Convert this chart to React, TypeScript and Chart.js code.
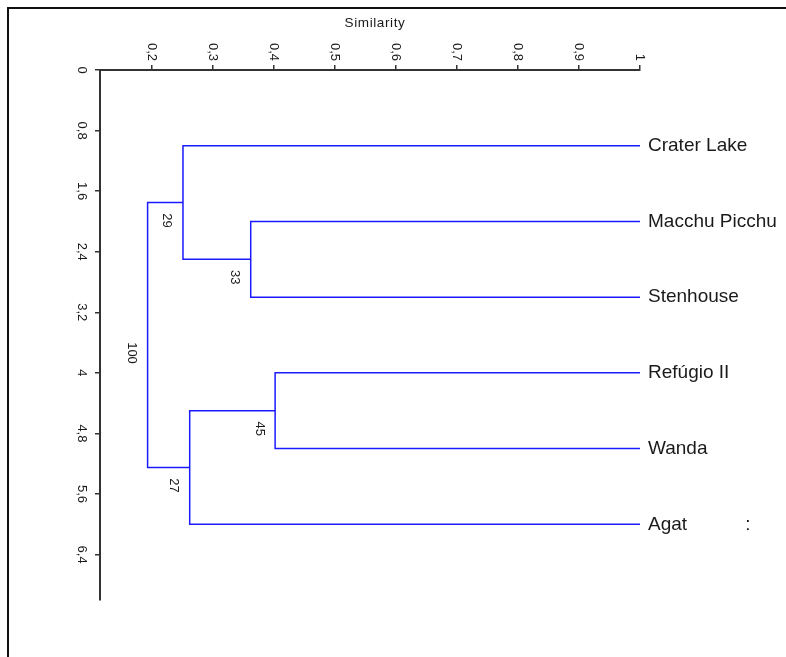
import React, { useEffect, useRef } from "react";
import { Chart, registerables } from "chart.js";

Chart.register(...registerables);

// ---- data ----
const xTickValues = [0.2, 0.3, 0.4, 0.5, 0.6, 0.7, 0.8, 0.9, 1];
const xTickLabels = ["0,2", "0,3", "0,4", "0,5", "0,6", "0,7", "0,8", "0,9", "1"];
const yTickValues = [0, 0.8, 1.6, 2.4, 3.2, 4, 4.8, 5.6, 6.4];
const yTickLabels = ["0", "0,8", "1,6", "2,4", "3,2", "4", "4,8", "5,6", "6,4"];
const axisTitle = "Similarity";

const leafNames = ["Crater Lake", "Macchu Picchu", "Stenhouse", "Refúgio II", "Wanda", "Agat           :"];
const leafPositions = [1, 2, 3, 4, 5, 6];
const leafSimilarity = 1;

// merges (node index: leaves 0..5, merges 6..10)
const mergeLeft = [1, 3, 0, 7, 8];
const mergeRight = [2, 4, 6, 5, 9];
const mergeSimilarity = [0.362, 0.402, 0.251, 0.262, 0.193];
const mergeSupport = [33, 45, 29, 27, 100];

const FONT = "'Liberation Sans', Arial, sans-serif";
const LINE_BLUE = "#1a1aff";
const W = 786;
const H = 657;

function buildNodes() {
  const nx: number[] = leafPositions.map(() => leafSimilarity);
  const ny: number[] = leafPositions.slice();
  mergeLeft.forEach((l, k) => {
    const r = mergeRight[k];
    nx.push(mergeSimilarity[k]);
    ny.push((ny[l] + ny[r]) / 2);
  });
  return { nx, ny };
}

export default function App() {
  const ref = useRef<HTMLCanvasElement | null>(null);

  useEffect(() => {
    const canvas = ref.current;
    if (!canvas) return;
    const { nx, ny } = buildNodes();

    const datasets = mergeLeft.map((l, k) => {
      const r = mergeRight[k];
      const s = mergeSimilarity[k];
      return {
        data: [
          { x: nx[l], y: ny[l] },
          { x: s, y: ny[l] },
          { x: s, y: ny[r] },
          { x: nx[r], y: ny[r] },
        ],
        showLine: true,
        borderColor: LINE_BLUE,
        backgroundColor: LINE_BLUE,
        borderWidth: 1.5,
        pointRadius: 0,
        tension: 0,
        fill: false,
      };
    });

    const overlay = {
      id: "overlay",
      afterDraw(chart: any) {
        const ctx = chart.ctx as CanvasRenderingContext2D;
        const xs = chart.scales.x;
        const ys = chart.scales.y;
        const area = chart.chartArea;
        ctx.save();

        // frame (top and left)
        ctx.fillStyle = "#111";
        ctx.fillRect(7, 7, chart.width - 7, 2);
        ctx.fillRect(7, 7, 2, chart.height - 7);

        // title
        ctx.fillStyle = "#1a1a1a";
        ctx.font = `13.5px ${FONT}`;
        (ctx as any).letterSpacing = "0.6px";
        ctx.textAlign = "center";
        ctx.textBaseline = "alphabetic";
        ctx.fillText(axisTitle, (area.left + area.right) / 2 + 5, 27);
        (ctx as any).letterSpacing = "0px";

        // top tick labels (rotated clockwise)
        ctx.font = `13px ${FONT}`;
        xTickValues.forEach((v, i) => {
          const px = xs.getPixelForValue(v);
          ctx.save();
          ctx.translate(px, area.top - 9);
          ctx.rotate(Math.PI / 2);
          ctx.textAlign = "right";
          ctx.textBaseline = "middle";
          ctx.fillText(xTickLabels[i], 0, 0);
          ctx.restore();
        });

        // left tick labels (rotated clockwise)
        yTickValues.forEach((v, i) => {
          const py = ys.getPixelForValue(v);
          ctx.save();
          ctx.translate(area.left - 18, py);
          ctx.rotate(Math.PI / 2);
          ctx.textAlign = "center";
          ctx.textBaseline = "middle";
          ctx.fillText(yTickLabels[i], 0, 0);
          ctx.restore();
        });

        // support values at nodes
        mergeSupport.forEach((val, k) => {
          const node = leafPositions.length + k;
          const px = xs.getPixelForValue(nx[node]) - 16;
          const py = ys.getPixelForValue(ny[node]) + 18;
          ctx.save();
          ctx.translate(px, py);
          ctx.rotate(Math.PI / 2);
          ctx.textAlign = "center";
          ctx.textBaseline = "middle";
          ctx.fillText(String(val), 0, 0);
          ctx.restore();
        });

        // leaf labels
        ctx.font = `19px ${FONT}`;
        ctx.textAlign = "left";
        ctx.textBaseline = "middle";
        leafNames.forEach((name, i) => {
          const px = xs.getPixelForValue(leafSimilarity) + 8;
          const py = ys.getPixelForValue(leafPositions[i]);
          ctx.fillText(name, px, py);
        });

        ctx.restore();
      },
    };

    const chart = new Chart(canvas, {
      type: "scatter",
      data: { datasets: datasets as any },
      options: {
        animation: false,
        responsive: true,
        maintainAspectRatio: false,
        layout: { padding: { left: 0, top: 0, right: 146, bottom: 57 } },
        plugins: { legend: { display: false }, tooltip: { enabled: false } },
        scales: {
          x: {
            type: "linear",
            position: "top",
            min: 0.115,
            max: 1,
            afterBuildTicks: (s: any) => {
              s.ticks = xTickValues.map((v) => ({ value: v }));
            },
            afterFit: (s: any) => {
              s.height = 70;
            },
            ticks: { display: false },
            grid: {
              drawOnChartArea: false,
              drawTicks: true,
              tickLength: 5,
              color: "#333",
              lineWidth: 1.5,
            },
            border: { display: true, color: "#333", width: 2 },
          },
          y: {
            type: "linear",
            position: "left",
            reverse: true,
            min: 0,
            max: 7,
            afterBuildTicks: (s: any) => {
              s.ticks = yTickValues.map((v) => ({ value: v }));
            },
            afterFit: (s: any) => {
              s.width = 100;
            },
            ticks: { display: false },
            grid: {
              drawOnChartArea: false,
              drawTicks: true,
              tickLength: 5,
              color: "#333",
              lineWidth: 1.5,
            },
            border: { display: true, color: "#333", width: 2 },
          },
        },
      },
      plugins: [overlay],
    });

    return () => chart.destroy();
  }, []);

  return (
    <div
      style={{
        position: "fixed",
        left: 0,
        top: 0,
        width: `${W}px`,
        height: `${H}px`,
        background: "#fff",
      }}
    >
      <canvas ref={ref} />
    </div>
  );
}
